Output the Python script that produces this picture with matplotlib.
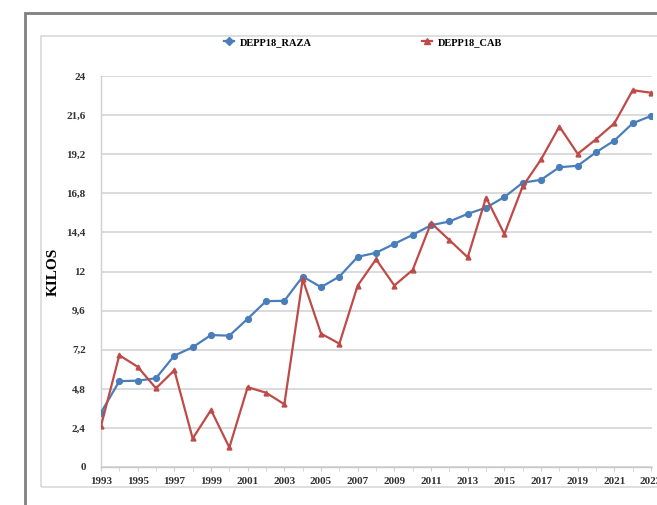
import matplotlib
matplotlib.use("Agg")
import matplotlib.pyplot as plt
from matplotlib.patches import Rectangle
from matplotlib.lines import Line2D

years = list(range(1993, 2024))
raza = [3.34, 5.27, 5.3, 5.45, 6.84, 7.35, 8.1, 8.06, 9.1, 10.18, 10.2, 11.69,
        11.04, 11.69, 12.9, 13.15, 13.7, 14.25, 14.84, 15.07, 15.54, 15.92,
        16.57, 17.45, 17.63, 18.4, 18.49, 19.32, 20.04, 21.1, 21.55]
cab = [2.52, 6.86, 6.15, 4.83, 5.94, 1.75, 3.5, 1.2, 4.9, 4.56, 3.85, 11.53,
       8.19, 7.57, 11.14, 12.75, 11.14, 12.1, 14.98, 13.93, 12.87, 16.54,
       14.3, 17.23, 18.88, 20.9, 19.22, 20.12, 21.1, 23.13, 22.97]
yticks = [0, 2.4, 4.8, 7.2, 9.6, 12, 14.4, 16.8, 19.2, 21.6, 24]
ytick_labels = ["0", "2,4", "4,8", "7,2", "9,6", "12", "14,4", "16,8", "19,2", "21,6", "24"]
xtick_years = list(range(1993, 2024, 2))
series_names = ["DEPP18_RAZA", "DEPP18_CAB"]
ylabel = "KILOS"

W, H = 657, 505
fig = plt.figure(figsize=(W / 100, H / 100), dpi=100)
serif = ["Liberation Serif", "DejaVu Serif"]

# outer frame and inner chart-area frame
fig.patches.append(Rectangle((25 / W, -0.1), 1.2, 1 - 13 / H + 0.1, transform=fig.transFigure,
                             fill=False, edgecolor="#7f7f7f", linewidth=2.0))
fig.patches.append(Rectangle((41 / W, 1 - 487 / H), 1.2, (487 - 36) / H, transform=fig.transFigure,
                             fill=False, edgecolor="#d9d9d9", linewidth=1.2))

left, right = 101 / W, 652 / W
bottom, top = 1 - 467 / H, 1 - 76 / H
ax = fig.add_axes([left, bottom, right - left, top - bottom])

blue = "#4A7EBB"
red = "#BE4B48"
ax.plot(years, raza, color=blue, linewidth=1.6, marker="o", markersize=4.2,
        label=series_names[0], zorder=3)
ax.plot(years, cab, color=red, linewidth=1.6, marker="^", markersize=3.5,
        label=series_names[1], zorder=3)

ax.set_xlim(1993, 2023.05)
ax.set_ylim(0, 24)
ax.set_yticks(yticks)
ax.set_yticklabels(ytick_labels)
ax.set_xticks(xtick_years)
ax.set_xticklabels([str(y) for y in xtick_years])
ax.set_xticks(years, minor=True)
ax.grid(axis="y", color="#d4d4d4", linewidth=1.2)
ax.set_axisbelow(True)
for s in ["top", "right"]:
    ax.spines[s].set_visible(False)
ax.spines["left"].set_color("#d0d0d0")
ax.spines["bottom"].set_color("#c8c8c8")
ax.spines["left"].set_linewidth(1.0)
ax.spines["bottom"].set_linewidth(1.0)
ax.tick_params(axis="y", length=0, pad=11)
ax.tick_params(axis="x", which="both", length=3, color="#d0d0d0", pad=4)
for lab in ax.get_xticklabels() + ax.get_yticklabels():
    lab.set_fontfamily(serif)
    lab.set_fontweight("bold")
    lab.set_fontsize(8)
    lab.set_color("#333333")
ax.set_ylabel(ylabel, fontfamily=serif, fontweight="bold", fontsize=11, labelpad=5)

handles = [Line2D([], [], color=blue, marker="D", markersize=4, linewidth=1.6),
           Line2D([], [], color=red, marker="^", markersize=4, linewidth=1.6)]
fig.legend(handles, series_names, loc="center", bbox_to_anchor=(363 / W, 1 - 42 / H),
           ncol=2, frameon=False, handlelength=1.0, handletextpad=0.55, columnspacing=10.5,
           prop={"family": serif, "weight": "bold", "size": 7.5})

fig.savefig("out.png", dpi=100)
